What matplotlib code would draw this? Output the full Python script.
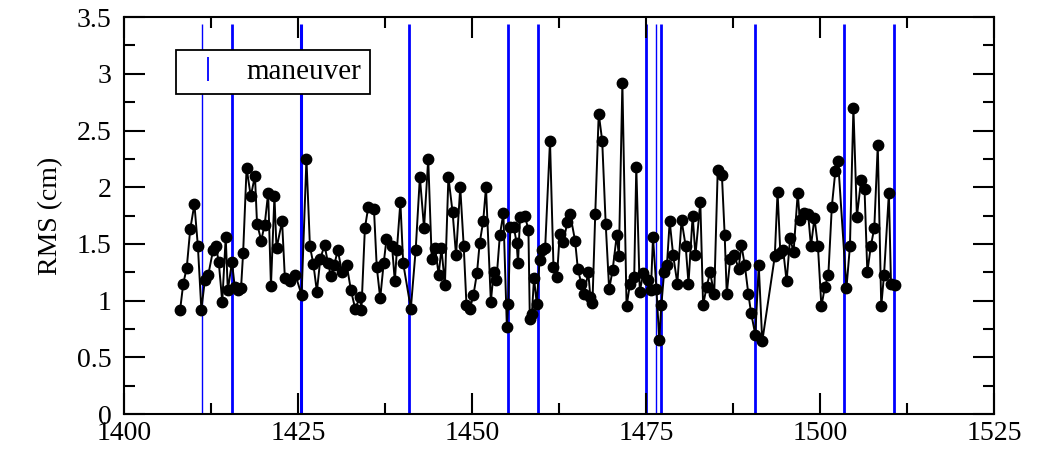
import numpy as np
import matplotlib
matplotlib.use('Agg')
import matplotlib.pyplot as plt
from matplotlib.lines import Line2D

# day numbers and RMS values
days = [1408.05, 1408.5, 1409.0, 1409.5, 1410.1, 1410.6, 1411.1, 1411.6, 1412.1, 1412.8,
        1413.2, 1413.6, 1414.1, 1414.6, 1414.9, 1415.5, 1415.9, 1416.4, 1416.8, 1417.1,
        1417.6, 1418.2, 1418.8, 1419.1, 1419.7, 1420.2, 1420.7, 1421.1, 1421.6, 1421.9,
        1422.7, 1423.1, 1423.9, 1424.6, 1425.5, 1426.2, 1426.7, 1427.2, 1427.7, 1428.2,
        1428.8, 1429.3, 1429.7, 1430.2, 1430.7, 1431.3, 1432.0, 1432.6, 1433.2, 1433.9,
        1434.1, 1434.6, 1435.1, 1435.9, 1436.3, 1436.8, 1437.3, 1437.7, 1438.5, 1438.9,
        1439.2, 1439.7, 1440.1, 1441.2, 1441.9, 1442.5, 1443.1, 1443.7, 1444.2, 1444.7,
        1445.2, 1445.6, 1446.1, 1446.6, 1447.2, 1447.7, 1448.3, 1448.8, 1449.2, 1449.7,
        1450.2, 1450.7, 1451.1, 1451.6, 1452.0, 1452.7, 1453.1, 1453.5, 1454.0, 1454.5,
        1455.0, 1455.2, 1455.5, 1456.0, 1456.4, 1456.6, 1456.9, 1457.6, 1458.1, 1458.3,
        1458.6, 1458.9, 1459.3, 1459.7, 1460.1, 1460.5, 1461.2, 1461.7, 1462.2, 1462.6,
        1463.1, 1463.7, 1464.1, 1464.8, 1465.2, 1465.7, 1466.1, 1466.7, 1467.0, 1467.3,
        1467.7, 1468.2, 1468.7, 1469.2, 1469.7, 1470.2, 1470.8, 1471.1, 1471.6, 1472.2,
        1472.7, 1473.3, 1473.6, 1474.1, 1474.6, 1475.3, 1475.7, 1476.0, 1476.5, 1476.9,
        1477.2, 1477.6, 1478.0, 1478.4, 1478.9, 1479.5, 1480.1, 1480.7, 1481.1, 1481.7,
        1482.1, 1482.8, 1483.2, 1483.7, 1484.2, 1484.8, 1485.3, 1485.9, 1486.3, 1486.6,
        1487.1, 1487.7, 1488.3, 1488.7, 1489.2, 1489.7, 1490.1, 1490.7, 1491.2, 1491.7,
        1493.5, 1493.9, 1494.3, 1494.7, 1495.2, 1495.7, 1496.2, 1496.8, 1497.1, 1497.7,
        1498.3, 1498.7, 1499.2, 1499.7, 1500.2, 1500.7, 1501.2, 1501.7, 1502.2, 1502.6,
        1503.8, 1504.3, 1504.8, 1505.3, 1505.9, 1506.4, 1506.8, 1507.3, 1507.8, 1508.3,
        1508.8, 1509.2, 1509.9, 1510.2, 1510.8]
rms = [0.92, 1.15, 1.29, 1.63, 1.85, 1.48, 0.92, 1.18, 1.23, 1.45,
       1.48, 1.34, 0.99, 1.56, 1.09, 1.34, 1.12, 1.09, 1.11, 1.42,
       2.17, 1.92, 2.10, 1.68, 1.53, 1.67, 1.95, 1.13, 1.92, 1.46,
       1.70, 1.20, 1.17, 1.23, 1.05, 2.25, 1.48, 1.32, 1.08, 1.37,
       1.49, 1.33, 1.22, 1.31, 1.45, 1.25, 1.31, 1.09, 0.93, 1.03,
       0.92, 1.64, 1.83, 1.81, 1.30, 1.02, 1.33, 1.54, 1.48, 1.17,
       1.45, 1.87, 1.33, 0.93, 1.45, 2.09, 1.64, 2.25, 1.37, 1.46,
       1.23, 1.46, 1.14, 2.09, 1.78, 1.40, 2.00, 1.48, 0.96, 0.93,
       1.05, 1.24, 1.51, 1.70, 2.00, 0.99, 1.25, 1.18, 1.58, 1.77,
       0.77, 0.97, 1.65, 1.65, 1.51, 1.33, 1.74, 1.75, 1.62, 0.84,
       0.88, 1.20, 0.97, 1.36, 1.45, 1.46, 2.41, 1.30, 1.21, 1.59,
       1.52, 1.69, 1.76, 1.53, 1.28, 1.15, 1.06, 1.25, 1.03, 0.98,
       1.76, 2.65, 2.41, 1.68, 1.10, 1.27, 1.58, 1.39, 2.92, 0.95,
       1.15, 1.21, 2.18, 1.08, 1.24, 1.18, 1.09, 1.56, 1.10, 0.65,
       0.96, 1.25, 1.31, 1.70, 1.40, 1.15, 1.71, 1.48, 1.15, 1.75,
       1.40, 1.87, 0.96, 1.12, 1.25, 1.06, 2.15, 2.11, 1.58, 1.06,
       1.37, 1.40, 1.28, 1.49, 1.31, 1.06, 0.89, 0.70, 1.31, 0.64,
       1.39, 1.96, 1.42, 1.45, 1.17, 1.55, 1.43, 1.95, 1.71, 1.77,
       1.76, 1.48, 1.73, 1.48, 0.95, 1.12, 1.23, 1.83, 2.14, 2.23,
       1.11, 1.48, 2.70, 1.74, 2.06, 1.98, 1.25, 1.48, 1.64, 2.37,
       0.95, 1.23, 1.95, 1.15, 1.14]

maneuver_days = [1411.25, 1415.5, 1425.4, 1441.0, 1455.1, 1459.5,
                 1475.0, 1476.5, 1477.1, 1490.7, 1503.4, 1510.6]

plt.rcParams['font.family'] = ['Liberation Serif', 'DejaVu Serif']

fig = plt.figure(figsize=(10.43, 4.51), dpi=100)
ax = fig.add_axes([0.119, 0.082, 0.834, 0.880])

widths = [1.0, 2.0, 2.2, 2.0, 2.0, 2.0, 2.0, 1.0, 2.0, 2.0, 2.0, 2.0]
ax.vlines(maneuver_days, 0, 3.44, colors='#0000ff', linewidths=widths, zorder=1)

ax.plot(days, rms, color='black', lw=1.4, marker='o', markersize=7.5,
        markerfacecolor='black', markeredgecolor='black', zorder=2)

ax.set_xlim(1400, 1525)
ax.set_ylim(0, 3.5)
ax.set_xticks(np.arange(1400, 1526, 25))
ax.set_xticks(np.arange(1400, 1526, 12.5), minor=True)
ax.set_yticks(np.arange(0, 3.51, 0.5))
ax.set_yticks(np.arange(0, 3.51, 0.25), minor=True)
ax.set_yticklabels(['0', '0.5', '1', '1.5', '2', '2.5', '3', '3.5'])

ax.tick_params(which='both', direction='in', top=True, right=True,
               labelsize=20, width=1.5)
ax.tick_params(axis='x', pad=5)
ax.tick_params(axis='y', pad=9)
ax.tick_params(which='major', length=15)
ax.tick_params(which='minor', length=8)
for s in ax.spines.values():
    s.set_linewidth(1.5)

ax.set_ylabel('RMS (cm)', fontsize=20, labelpad=10)

handle = Line2D([], [], color='#0000ff', marker='|', linestyle='none',
                markersize=17, markeredgewidth=1.3)
leg = ax.legend([handle], ['maneuver'], loc='upper left',
                bbox_to_anchor=(0.06, 0.917), borderaxespad=0, fontsize=21,
                fancybox=False, framealpha=1, edgecolor='black',
                handlelength=1.6, handletextpad=0.5, borderpad=0.3)
leg.get_frame().set_linewidth(1.3)

fig.savefig('out.png', dpi=100)
